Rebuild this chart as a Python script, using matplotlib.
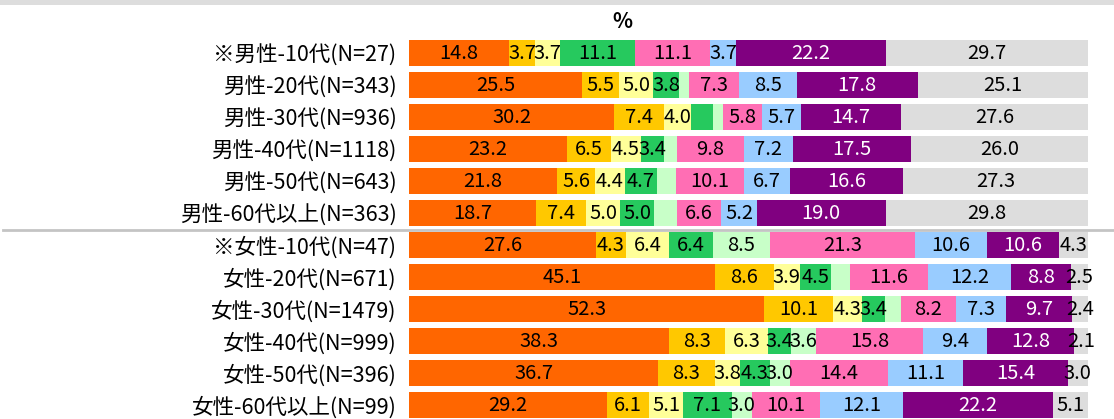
import matplotlib.pyplot as plt
from matplotlib.patches import Rectangle
from matplotlib.lines import Line2D
import numpy as np

plt.rcParams['font.family'] = ['Noto Sans CJK JP', 'DejaVu Sans']

rows = ["※男性-10代(N=27)", "男性-20代(N=343)", "男性-30代(N=936)", "男性-40代(N=1118)",
        "男性-50代(N=643)", "男性-60代以上(N=363)", "※女性-10代(N=47)", "女性-20代(N=671)",
        "女性-30代(N=1479)", "女性-40代(N=999)", "女性-50代(N=396)", "女性-60代以上(N=99)"]

# one list per answer category, values in %, same order as rows
s1 = [14.8, 25.5, 30.2, 23.2, 21.8, 18.7, 27.6, 45.1, 52.3, 38.3, 36.7, 29.2]
s2 = [3.7, 5.5, 7.4, 6.5, 5.6, 7.4, 4.3, 8.6, 10.1, 8.3, 8.3, 6.1]
s3 = [3.7, 5.0, 4.0, 4.5, 4.4, 5.0, 6.4, 3.9, 4.3, 6.3, 3.8, 5.1]
s4 = [11.1, 3.8, 3.2, 3.4, 4.7, 5.0, 6.4, 4.5, 3.4, 3.4, 4.3, 7.1]
s5 = [0.0, 1.5, 1.4, 1.9, 2.8, 3.3, 8.5, 2.8, 2.3, 3.6, 3.0, 3.0]
s6 = [11.1, 7.3, 5.8, 9.8, 10.1, 6.6, 21.3, 11.6, 8.2, 15.8, 14.4, 10.1]
s7 = [3.7, 8.5, 5.7, 7.2, 6.7, 5.2, 10.6, 12.2, 7.3, 9.4, 11.1, 12.1]
s8 = [22.2, 17.8, 14.7, 17.5, 16.6, 19.0, 10.6, 8.8, 9.7, 12.8, 15.4, 22.2]
s9 = [29.7, 25.1, 27.6, 26.0, 27.3, 29.8, 4.3, 2.5, 2.4, 2.1, 3.0, 5.1]
series = [s1, s2, s3, s4, s5, s6, s7, s8, s9]

# segments that carry no value label in the original (row, series)
no_label = {(1, 4), (2, 3), (2, 4), (3, 4), (4, 4), (5, 4), (7, 4), (8, 4)}

colors = ['#FF6600', '#FFC800', '#FFFF99', '#26C95E', '#C8FFC8',
          '#FF6EB4', '#99CCFF', '#800080', '#DDDDDD']

fig = plt.figure(figsize=(11.14, 4.19), dpi=100)
ax = fig.add_axes([409 / 1114, 0, 679 / 1114, 1])

y = np.arange(len(rows))
left = np.zeros(len(rows))
for k, vals in enumerate(series):
    vals = np.array(vals)
    ax.barh(y, vals, left=left, height=0.8125, color=colors[k], linewidth=0)
    for i, v in enumerate(vals):
        if v <= 0 or (i, k) in no_label:
            continue
        tc = 'white' if k == 7 else 'black'
        ax.text(left[i] + v / 2, y[i] + 0.03, f"{v:.1f}", ha='center', va='center',
                fontsize=14.5, color=tc)
    left += vals

ax.set_xlim(0, 100)
ax.set_ylim(11.4375, -1.65625)
ax.set_yticks(y)
ax.set_yticklabels(rows, fontsize=15.5)
ax.tick_params(axis='y', length=0, pad=9)
ax.set_xticks([])
for sp in ax.spines.values():
    sp.set_visible(False)

ax.text(622 / 1114, 1 - 22 / 419, "%", transform=fig.transFigure, ha='center',
        va='center', fontsize=15, fontweight='bold')

fig.add_artist(Rectangle((0, 1 - 5 / 419), 1, 5 / 419, transform=fig.transFigure,
                         facecolor='#DDDDDD', edgecolor='none'))
fig.add_artist(Line2D([3 / 1114, 1], [1 - 230 / 419] * 2, transform=fig.transFigure,
                      color='#C4C4C4', linewidth=2))

fig.savefig("out.png", dpi=100)
